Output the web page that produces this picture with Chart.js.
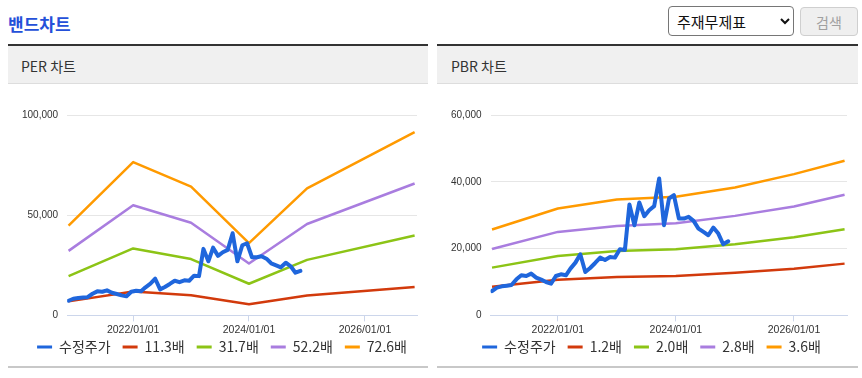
<!DOCTYPE html>
<html><head><meta charset="utf-8">
<script src="https://cdn.jsdelivr.net/npm/chart.js@4.4.1/dist/chart.umd.min.js"></script>
<style>
html,body{margin:0;padding:0;background:#fff;}
body{width:862px;height:378px;position:relative;overflow:hidden;font-family:"Noto Sans CJK KR","Noto Sans",sans-serif;}
#title{position:absolute;left:8px;top:14px;font-size:17px;line-height:20px;font-weight:700;color:#2450d9;}
#sel{position:absolute;left:668px;top:6px;width:126px;height:30px;font-size:15px;font-family:"Noto Sans CJK KR",sans-serif;color:#111;border:1px solid #767676;border-radius:4px;background:#fff;padding:0 4px;box-sizing:border-box;}
#btn{position:absolute;left:800px;top:7px;width:58px;height:29px;font-size:14px;font-family:"Noto Sans CJK KR",sans-serif;color:#a0a0a0;border:1px solid #cfcfcf;border-radius:4px;background:#efefef;box-sizing:border-box;padding:0;}
.phead{position:absolute;top:44px;height:37px;border-top:2px solid #333;border-bottom:1px solid #ddd;background:#f0f0f0;font-size:14px;color:#333;line-height:41px;overflow:hidden;box-sizing:content-box;}
.pfoot{position:absolute;top:366px;height:2px;background:#c8c8c8;}
.cwrap{position:absolute;top:84px;height:290px;}
</style></head>
<body>
<div id="title">밴드차트</div>
<select id="sel"><option>주재무제표</option></select>
<button id="btn" disabled>검색</button>

<div class="phead" style="left:8px;width:407px;padding-left:13px;">PER 차트</div>
<div class="phead" style="left:437px;width:407px;padding-left:14px;">PBR 차트</div>
<div class="pfoot" style="left:8px;width:420px;"></div>
<div class="pfoot" style="left:437px;width:421px;"></div>
<div class="cwrap" style="left:8px;width:420px;"><canvas id="perChart"></canvas></div>
<div class="cwrap" style="left:437px;width:421px;"><canvas id="pbrChart"></canvas></div>

<script>
// ---- data ----
const priceDates = [
 "2020/11/20","2020/12/20","2021/01/20","2021/02/20","2021/03/20","2021/04/20","2021/05/20","2021/06/20",
 "2021/07/20","2021/08/20","2021/09/20","2021/10/20","2021/11/20","2021/12/20","2022/01/20","2022/02/20",
 "2022/03/20","2022/04/20","2022/05/20","2022/06/20","2022/07/20","2022/08/20","2022/09/20","2022/10/20",
 "2022/11/20","2022/12/20","2023/01/20","2023/02/20","2023/03/20","2023/04/20","2023/05/20","2023/06/20",
 "2023/07/20","2023/08/20","2023/09/20","2023/10/20","2023/11/20","2023/12/20","2024/01/20","2024/02/20",
 "2024/03/20","2024/04/20","2024/05/20","2024/06/20","2024/07/20","2024/08/20","2024/09/20","2024/10/20",
 "2024/11/20"
];
const priceValues = [
 7300,8300,8700,8900,9100,10800,12000,11800,
 12500,11300,10700,10000,9500,11800,12300,12000,
 14000,15800,18300,13000,14200,15700,17300,16600,
 17500,17300,19800,19600,33200,27000,33800,29700,
 31500,32700,41000,27000,35000,36000,29000,29000,
 29500,28300,26000,25000,24000,26300,24500,21300,
 22200
];

const perBandDates = ["2020/11/20","2022/01/01","2023/01/01","2024/01/01","2025/01/01","2026/11/10"];
const perBandLabels = ["11.3배","31.7배","52.2배","72.6배"];
const per113 = [7000, 11900, 10000, 5600, 9900, 14200];
const per317 = [19600, 33400, 28100, 15800, 27700, 39900];
const per522 = [32200, 55000, 46200, 25900, 45600, 65800];
const per726 = [44800, 76500, 64300, 36100, 63400, 91500];

const pbrBandDates = ["2020/11/20","2022/01/01","2023/01/01","2024/01/01","2025/01/01","2026/01/01","2026/11/10"];
const pbrBandLabels = ["1.2배","2.0배","2.8배","3.6배"];
const pbr12 = [8600, 10700, 11500, 11800, 12800, 14000, 15500];
const pbr20 = [14300, 17800, 19300, 19800, 21300, 23400, 25800];
const pbr28 = [19900, 25000, 26800, 27600, 29800, 32600, 36100];
const pbr36 = [25700, 32000, 34700, 35500, 38300, 42300, 46300];

const priceLabel = "수정주가";
const xTickLabels = ["2022/01/01","2024/01/01","2026/01/01"];
const xRange = ["2020/11/11","2026/11/25"];
const perYTicks = [0, 50000, 100000];
const pbrYTicks = [0, 20000, 40000, 60000];

// ---- styling ----
const priceColor = "#1f66dc";
const bandColors = ["#d23a0c", "#8cc416", "#a97ddf", "#ff9a00"];

function ts(s){ const p = s.split("/").map(Number); return Date.UTC(p[0], p[1]-1, p[2]); }
function pts(dates, vals){ return dates.map((d,i)=>({x: ts(d), y: vals[i]})); }

const legendShift = {
  id: 'legendShift',
  afterLayout(chart){
    const l = chart.legend;
    if (l){ l.top -= 10; l.bottom -= 10; l.left += 7; l.right += 7; }
  }
};

function makeChart(id, bandDates, bandSeries, bandLabels, yTicks){
  const datasets = [{
    label: priceLabel, data: pts(priceDates, priceValues),
    borderColor: priceColor, backgroundColor: priceColor, borderWidth: 4,
    pointRadius: 0, tension: 0, borderJoinStyle: 'round', borderCapStyle: 'round'
  }];
  bandSeries.forEach((vals, i) => datasets.push({
    label: bandLabels[i], data: pts(bandDates, vals),
    borderColor: bandColors[i], backgroundColor: bandColors[i], borderWidth: 2.5,
    pointRadius: 0, tension: 0, borderJoinStyle: 'round'
  }));
  const tickVals = xTickLabels.map(ts);
  return new Chart(document.getElementById(id), {
    type: 'line',
    data: { datasets },
    plugins: [legendShift],
    options: {
      responsive: true, maintainAspectRatio: false, animation: false, devicePixelRatio: 1,
      layout: { padding: { left: 5, right: 11, top: 31, bottom: 0 } },
      plugins: {
        tooltip: { enabled: false },
        legend: {
          position: 'bottom',
          labels: {
            boxWidth: 15, boxHeight: 3, padding: 12, color: '#333',
            font: { family: '"Noto Sans CJK KR", sans-serif', size: 14 },
            generateLabels: (chart) => chart.data.datasets.map((ds, i) => ({
              text: ds.label, fillStyle: ds.borderColor, strokeStyle: ds.borderColor,
              lineWidth: 0, hidden: false, datasetIndex: i, fontColor: '#333'
            }))
          }
        }
      },
      scales: {
        x: {
          type: 'linear', min: ts(xRange[0]), max: ts(xRange[1]),
          afterBuildTicks: (scale) => { scale.ticks = tickVals.map(v => ({ value: v })); },
          ticks: {
            autoSkip: false, maxRotation: 0, padding: 2, color: '#333',
            font: { family: '"Liberation Sans", Arial, sans-serif', size: 10.5 },
            callback: (v) => { const k = tickVals.indexOf(v); return k >= 0 ? xTickLabels[k] : ''; }
          },
          grid: { display: true, drawOnChartArea: false, drawTicks: true, tickLength: 6, color: '#ccd6eb' },
          border: { display: true, color: '#ccd6eb', width: 1 }
        },
        y: {
          min: yTicks[0], max: yTicks[yTicks.length-1],
          afterBuildTicks: (scale) => { scale.ticks = yTicks.map(v => ({ value: v })); },
          ticks: {
            padding: 9, color: '#333',
            font: { family: '"Liberation Sans", Arial, sans-serif', size: 10 },
            callback: (v) => Number(v).toLocaleString('en-US')
          },
          grid: { drawTicks: false, color: (c) => c.tick && c.tick.value === 0 ? 'rgba(0,0,0,0)' : '#e6e6e6', lineWidth: 1 },
          border: { display: false }
        }
      }
    }
  });
}

makeChart('perChart', perBandDates, [per113, per317, per522, per726], perBandLabels, perYTicks);
makeChart('pbrChart', pbrBandDates, [pbr12, pbr20, pbr28, pbr36], pbrBandLabels, pbrYTicks);
</script>
</body></html>
